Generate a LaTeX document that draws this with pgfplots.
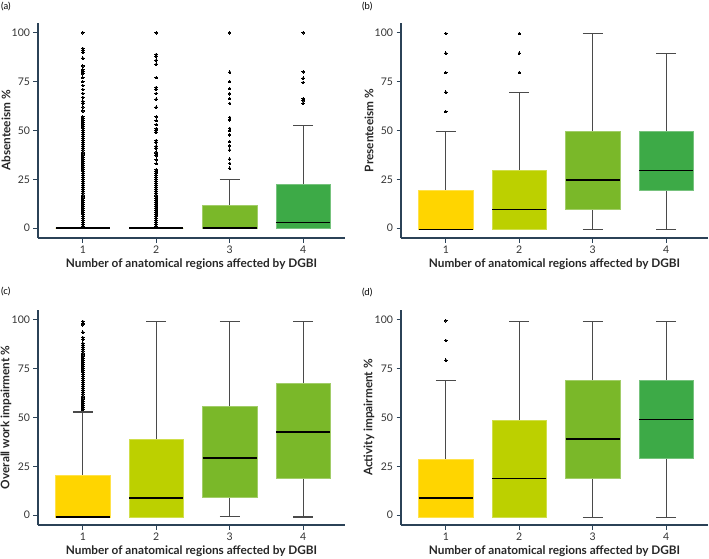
\documentclass[border=0pt]{standalone}
\usepackage{fontspec}
\setmainfont{Lato}
\usepackage{pgfplots}
\pgfplotsset{compat=1.18}
\usepgfplotslibrary{statistics}

\definecolor{axc}{HTML}{2B4257}
\definecolor{c1}{HTML}{FFD500}
\definecolor{c2}{HTML}{BCD000}
\definecolor{c3}{HTML}{7AB829}
\definecolor{c4}{HTML}{3DAA47}
\definecolor{wc}{HTML}{4A4A4A}

\pgfplotsset{
 panel/.style={
  scale only axis, width=307pt, height=215pt,
  xmin=0.39, xmax=4.57, ymin=-5, ymax=105,
  axis x line*=bottom, axis y line*=left,
  axis line style={axc, line width=1.3pt},
  xtick={1,2,3,4}, ytick={0,25,50,75,100},
  tick style={axc, line width=0.7pt}, tick align=outside, major tick length=4.5pt,
  tick label style={font=\fontsize{10.5}{12}\selectfont, text=black!80},
  /pgf/number format/assume math mode=true,
  xlabel={Number of anatomical regions affected by DGBI},
  label style={font=\fontsize{11.8}{14}\selectfont\bfseries, text=black!85, inner sep=0pt},
  xlabel style={at={(axis description cs:0.5,0)}, anchor=center, yshift=-26.5pt},
  ylabel style={at={(axis description cs:0,0.5)}, anchor=center, rotate=0, yshift=32pt},
  boxplot/draw direction=y,
  boxplot/box extend=0.74,
  boxplot/whisker extend=0.27,
  boxplot/every median/.style={draw=black, line width=1.8pt},
  boxplot/every whisker/.style={draw=wc, line width=1.1pt},
  boxplot/every box/.style={line width=0.6pt},
 },
 bx/.style={mark=*, mark size=1.25pt, mark options={fill=black, draw=black, line width=0pt}, fill=#1, draw=#1!70!white},
}

\begin{document}
\begin{tikzpicture}
\path (0,0) rectangle (709pt,558pt);
\node[anchor=north west, inner sep=0pt, font=\fontsize{9.5}{10}\selectfont] at (1pt,556pt) {(a)};
\node[anchor=north west, inner sep=0pt, font=\fontsize{9.5}{10}\selectfont] at (362pt,556pt) {(b)};
\node[anchor=north west, inner sep=0pt, font=\fontsize{9.5}{10}\selectfont] at (1pt,271pt) {(c)};
\node[anchor=north west, inner sep=0pt, font=\fontsize{9.5}{10}\selectfont] at (362pt,270pt) {(d)};

% (a) Absenteeism
\begin{axis}[panel, at={(38pt,320pt)}, anchor=south west, ylabel={Absenteeism \%}]
\addplot[bx=c1, boxplot prepared={draw position=1, lower whisker=0, lower quartile=0, median=0, upper quartile=0, upper whisker=0}]
 table[row sep=\\, y index=0] {1\\2\\3\\4\\5\\6\\7\\8\\9\\10\\11\\12\\13\\14\\15\\16\\17\\18\\19\\20\\21\\22\\23\\24\\25\\26\\27\\28\\29\\30\\31\\32\\33\\34\\35\\36\\37\\38\\39\\40\\41\\42\\43\\44\\45\\46\\47\\48\\49\\50\\51\\52\\53\\54\\55\\56\\57\\60\\62\\64\\65\\67\\69\\71\\73\\75\\77\\79\\80\\81\\83\\87\\90\\91\\92\\100\\};
\addplot[bx=c2, boxplot prepared={draw position=2, lower whisker=0, lower quartile=0, median=0, upper quartile=0, upper whisker=0}]
 table[row sep=\\, y index=0] {1\\2\\3\\4\\5\\6\\7\\8\\9\\10\\11\\12\\13\\14\\15\\16\\17\\18\\19\\20\\21\\22\\23\\24\\25\\26\\27\\28\\29\\30\\33\\35\\37\\38\\39\\41\\42\\44\\45\\49\\50\\51\\53\\55\\57\\62\\66\\69\\71\\72\\77\\84\\86\\88\\89\\100\\};
\addplot[bx=c3, boxplot prepared={draw position=3, lower whisker=0, lower quartile=0, median=0, upper quartile=11.6, upper whisker=25}]
 table[row sep=\\, y index=0] {30.7\\33.2\\35.4\\40\\42.1\\44.3\\47.7\\49.9\\51.1\\55.4\\56.7\\63.9\\66.3\\68.8\\71.4\\75\\79.9\\100\\};
\addplot[bx=c4, boxplot prepared={draw position=4, lower whisker=0, lower quartile=0, median=2.9, upper quartile=22.5, upper whisker=52.6}]
 table[row sep=\\, y index=0] {63.9\\65.2\\66.3\\74.6\\76.8\\80\\100\\};
\end{axis}

% (b) Presenteeism
\begin{axis}[panel, at={(401pt,320pt)}, anchor=south west, ylabel={Presenteeism \%}]
\addplot[bx=c1, boxplot prepared={draw position=1, lower whisker=-0.6, lower quartile=-0.6, median=-0.6, upper quartile=19.6, upper whisker=49.5}]
 table[row sep=\\, y index=0] {59.6\\69.6\\79.6\\89.6\\99.6\\};
\addplot[bx=c2, boxplot prepared={draw position=2, lower whisker=-0.6, lower quartile=-0.6, median=9.6, upper quartile=29.5, upper whisker=69.6}]
 table[row sep=\\, y index=0] {79.6\\89.6\\99.6\\};
\addplot[bx=c3, boxplot prepared={draw position=3, lower whisker=-0.6, lower quartile=9.6, median=24.6, upper quartile=49.5, upper whisker=99.6}]
 coordinates {};
\addplot[bx=c4, boxplot prepared={draw position=4, lower whisker=-0.6, lower quartile=19.6, median=29.5, upper quartile=49.5, upper whisker=89.6}]
 coordinates {};
\end{axis}

% (c) Overall work impairment
\begin{axis}[panel, at={(38pt,33pt)}, anchor=south west, ylabel={Overall work impairment \%}]
\addplot[bx=c1, boxplot prepared={draw position=1, lower whisker=-1, lower quartile=-1, median=-1, upper quartile=20.6, upper whisker=52.8}]
 table[row sep=\\, y index=0] {54\\55\\56\\57\\58\\59\\60\\61\\62\\63\\64\\65\\66\\67\\68\\69\\70\\71\\72\\73\\74\\75\\76\\77\\78\\79\\80\\81\\82\\83\\84\\85\\86\\87\\88\\90\\91\\93.7\\97.4\\98.2\\99.1\\};
\addplot[bx=c2, boxplot prepared={draw position=2, lower whisker=-1, lower quartile=-1, median=9, upper quartile=39, upper whisker=99.1}]
 coordinates {};
\addplot[bx=c3, boxplot prepared={draw position=3, lower whisker=-0.7, lower quartile=9, median=29.1, upper quartile=55.5, upper whisker=99.1}]
 coordinates {};
\addplot[bx=c3, boxplot prepared={draw position=4, lower whisker=-0.9, lower quartile=18.9, median=42.4, upper quartile=67.3, upper whisker=99.1}]
 coordinates {};
\end{axis}

% (d) Activity impairment
\begin{axis}[panel, at={(401pt,33pt)}, anchor=south west, ylabel={Activity impairment \%}]
\addplot[bx=c1, boxplot prepared={draw position=1, lower whisker=-1, lower quartile=-1, median=8.7, upper quartile=28.7, upper whisker=68.9}]
 table[row sep=\\, y index=0] {79.3\\89.4\\99.5\\};
\addplot[bx=c2, boxplot prepared={draw position=2, lower whisker=-1, lower quartile=-1, median=18.8, upper quartile=48.7, upper whisker=99.1}]
 coordinates {};
\addplot[bx=c3, boxplot prepared={draw position=3, lower whisker=-1.2, lower quartile=18.8, median=38.8, upper quartile=68.9, upper whisker=99.1}]
 coordinates {};
\addplot[bx=c4, boxplot prepared={draw position=4, lower whisker=-1.2, lower quartile=29, median=49, upper quartile=68.9, upper whisker=99.1}]
 coordinates {};
\end{axis}
\end{tikzpicture}
\end{document}
